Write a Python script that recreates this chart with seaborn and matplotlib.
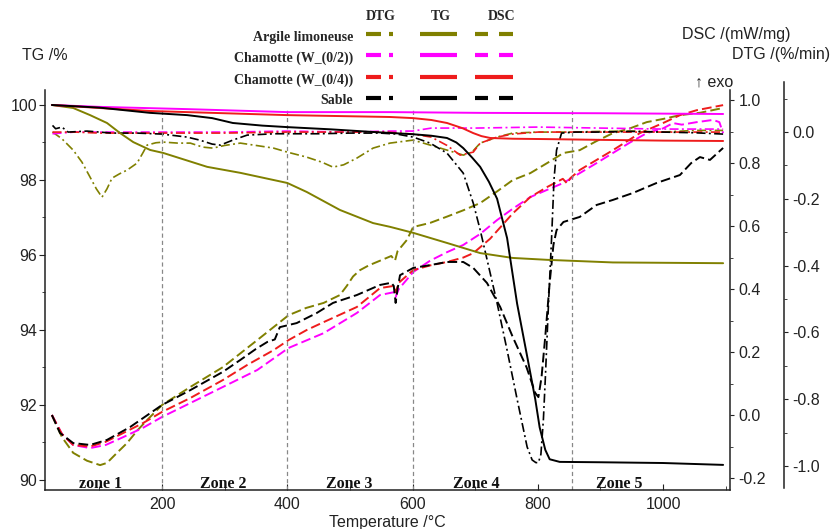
import matplotlib
matplotlib.use("Agg")
import matplotlib.pyplot as plt
import seaborn as sns
from matplotlib.lines import Line2D
from matplotlib.ticker import MultipleLocator, FormatStrFormatter

############################################################
##### Data
############################################################

series_names = ["Argile limoneuse", "Chamotte (W_(0/2))", "Chamotte (W_(0/4))", "Sable"]
series_colors = ["#808000", "#ff00ff", "#ee1c1c", "#000000"]
zone_names = ["zone 1", "Zone 2", "Zone 3", "Zone 4", "Zone 5"]
zone_centers = [101, 297, 499, 701, 930]
zone_bounds = [200, 400, 600, 855]

# TG /% (solid)
tg_arg_t = [24, 58, 85, 112, 133, 154, 181, 202, 272, 325, 400, 431, 484, 537, 564,
            601, 655, 708, 760, 815, 920, 1096]
tg_arg_v = [100.0, 99.92, 99.73, 99.52, 99.25, 99.01, 98.8, 98.72, 98.35, 98.19, 97.92,
            97.68, 97.2, 96.85, 96.75, 96.59, 96.32, 96.05, 95.92, 95.87, 95.8, 95.78]

tg_w02_t = [24, 100, 240, 400, 564, 708, 900, 1096]
tg_w02_v = [100.0, 99.95, 99.89, 99.81, 99.81, 99.79, 99.78, 99.76]

tg_w04_t = [24, 100, 181, 300, 400, 564, 601, 630, 655, 680, 697, 710, 724, 760, 815,
            900, 1000, 1096]
tg_w04_v = [100.0, 99.92, 99.84, 99.78, 99.73, 99.68, 99.65, 99.6, 99.52, 99.38, 99.25,
            99.17, 99.12, 99.1, 99.09, 99.07, 99.05, 99.04]

tg_sab_t = [24, 100, 181, 240, 280, 313, 360, 400, 470, 537, 601, 630, 655, 670, 681,
            695, 708, 722, 735, 751, 767, 783, 796, 803, 812, 819, 835, 900, 1000, 1096]
tg_sab_v = [100.0, 99.93, 99.79, 99.73, 99.65, 99.52, 99.45, 99.41, 99.35, 99.28, 99.22,
            99.18, 99.12, 99.0, 98.85, 98.6, 98.35, 97.95, 97.5, 96.45, 94.7, 93.3, 92.15,
            91.4, 90.8, 90.55, 90.48, 90.47, 90.45, 90.4]

# DSC /(mW/mg) (dashed)
dsc_arg_t = [24, 40, 58, 80, 101, 112, 128, 144, 160, 176, 200, 245, 297, 352, 402, 430,
             458, 484, 495, 505, 516, 530, 548, 566, 572, 576, 591, 601, 628, 655, 681,
             708, 735, 760, 788, 815, 841, 867, 894, 920, 947, 974, 1000, 1027, 1060, 1096]
dsc_arg_v = [0.0, -0.07, -0.12, -0.145, -0.159, -0.152, -0.12, -0.089, -0.05, -0.016,
             0.032, 0.089, 0.152, 0.238, 0.317, 0.34, 0.356, 0.381, 0.41, 0.44, 0.46,
             0.475, 0.49, 0.505, 0.49, 0.52, 0.556, 0.597, 0.61, 0.63, 0.65, 0.673, 0.71,
             0.746, 0.768, 0.8, 0.832, 0.841, 0.87, 0.895, 0.91, 0.93, 0.94, 0.952, 0.96,
             0.975]

dsc_w02_t = [24, 40, 58, 85, 110, 138, 170, 200, 245, 297, 352, 402, 458, 511, 548, 570,
             573, 578, 601, 628, 655, 681, 708, 735, 760, 788, 815, 841, 867, 894, 920,
             947, 974, 1000, 1016, 1030, 1054, 1080, 1090, 1096]
dsc_w02_v = [0.0, -0.06, -0.095, -0.105, -0.095, -0.07, -0.04, -0.006, 0.038, 0.089,
             0.143, 0.213, 0.26, 0.324, 0.381, 0.39, 0.375, 0.4, 0.454, 0.49, 0.517, 0.54,
             0.575, 0.619, 0.655, 0.692, 0.715, 0.737, 0.768, 0.8, 0.832, 0.865, 0.895,
             0.91, 0.927, 0.922, 0.93, 0.937, 0.93, 0.895]

dsc_w04_t = [24, 40, 58, 85, 110, 138, 170, 200, 245, 297, 336, 378, 402, 431, 458, 511,
             548, 570, 573, 578, 601, 628, 655, 681, 697, 724, 760, 788, 815, 840, 847,
             852, 867, 894, 920, 963, 1000, 1027, 1054, 1096]
dsc_w04_v = [0.0, -0.06, -0.095, -0.1, -0.085, -0.057, -0.025, 0.01, 0.054, 0.111, 0.159,
             0.206, 0.238, 0.27, 0.295, 0.343, 0.403, 0.41, 0.39, 0.42, 0.46, 0.475, 0.486,
             0.5, 0.514, 0.56, 0.64, 0.692, 0.724, 0.75, 0.735, 0.752, 0.778, 0.81, 0.841,
             0.895, 0.927, 0.952, 0.968, 0.984]

dsc_sab_t = [24, 37, 58, 85, 112, 149, 200, 245, 297, 325, 350, 368, 380, 388, 415, 447,
             473, 511, 548, 566, 570, 573, 576, 580, 601, 628, 655, 681, 697, 719, 740,
             760, 782, 796, 801, 806, 812, 819, 825, 830, 841, 867, 894, 920, 952, 990,
             1027, 1045, 1059, 1075, 1096]
dsc_sab_v = [0.0, -0.057, -0.089, -0.095, -0.079, -0.038, 0.032, 0.079, 0.137, 0.175,
             0.21, 0.232, 0.24, 0.279, 0.292, 0.324, 0.356, 0.381, 0.413, 0.42, 0.41, 0.356,
             0.4, 0.444, 0.467, 0.476, 0.486, 0.486, 0.467, 0.419, 0.343, 0.248, 0.152,
             0.07, 0.057, 0.12, 0.25, 0.42, 0.54, 0.587, 0.613, 0.629, 0.667, 0.683, 0.705,
             0.737, 0.762, 0.8, 0.819, 0.81, 0.848]

# DTG /(%/min) (dash-dot)
dtg_arg_t = [25, 40, 58, 72, 85, 95, 104, 112, 120, 132, 144, 160, 170, 176, 190, 202,
             225, 245, 265, 281, 300, 325, 350, 378, 400, 431, 455, 473, 490, 511, 537,
             564, 601, 630, 655, 681, 695, 708, 735, 760, 800, 850, 900, 950, 1000, 1050,
             1096]
dtg_arg_v = [0.0, -0.02, -0.054, -0.09, -0.135, -0.17, -0.195, -0.17, -0.138, -0.125,
             -0.114, -0.093, -0.06, -0.039, -0.032, -0.03, -0.033, -0.033, -0.045, -0.048,
             -0.04, -0.033, -0.04, -0.048, -0.06, -0.075, -0.09, -0.105, -0.098, -0.078,
             -0.048, -0.033, -0.024, -0.04, -0.054, -0.069, -0.06, -0.033, -0.015, -0.003,
             0.0, 0.0, 0.002, 0.003, 0.0, 0.005, 0.005]

dtg_w02_t = [25, 60, 100, 200, 300, 400, 500, 560, 600, 630, 700, 800, 900, 1000, 1096]
dtg_w02_v = [-0.005, 0.0, 0.0, 0.0, 0.0, 0.003, 0.0, 0.003, 0.003, 0.012, 0.012, 0.015,
             0.012, 0.009, 0.009]

dtg_w04_t = [25, 60, 100, 200, 300, 400, 500, 560, 600, 630, 655, 676, 697, 708, 735,
             760, 800, 900, 1000, 1096]
dtg_w04_v = [0.0, 0.0, -0.003, -0.003, -0.003, 0.0, 0.0, 0.0, -0.006, -0.015, -0.04,
             -0.069, -0.06, -0.033, -0.015, -0.006, 0.0, 0.0, 0.0, 0.0]

dtg_sab_t = [25, 30, 40, 50, 80, 120, 160, 200, 240, 260, 280, 293, 305, 313, 336, 380,
             450, 500, 548, 575, 601, 628, 655, 681, 697, 708, 720, 735, 751, 767, 783,
             791, 797, 801, 805, 809, 812, 817, 822, 826, 830, 838, 860, 900, 950, 1000,
             1050, 1096]
dtg_sab_v = [0.02, 0.01, 0.015, 0.0, 0.003, -0.003, -0.003, -0.006, -0.015, -0.024,
             -0.036, -0.039, -0.03, -0.024, -0.009, -0.005, -0.005, -0.003, -0.003,
             -0.006, -0.015, -0.033, -0.063, -0.123, -0.213, -0.293, -0.39, -0.512,
             -0.653, -0.8, -0.943, -0.982, -0.99, -0.99, -0.965, -0.86, -0.74, -0.52,
             -0.32, -0.14, -0.054, -0.003, 0.0, 0.0, 0.002, 0.0, -0.002, -0.006]

tg_data = [(tg_arg_t, tg_arg_v), (tg_w02_t, tg_w02_v), (tg_w04_t, tg_w04_v), (tg_sab_t, tg_sab_v)]
dsc_data = [(dsc_arg_t, dsc_arg_v), (dsc_w02_t, dsc_w02_v), (dsc_w04_t, dsc_w04_v), (dsc_sab_t, dsc_sab_v)]
dtg_data = [(dtg_arg_t, dtg_arg_v), (dtg_w02_t, dtg_w02_v), (dtg_w04_t, dtg_w04_v), (dtg_sab_t, dtg_sab_v)]

############################################################
##### Figure
############################################################

sns.set_style("ticks")
plt.rcParams["font.family"] = ["Liberation Sans", "DejaVu Sans"]
plt.rcParams["axes.unicode_minus"] = False
plt.rcParams["lines.scale_dashes"] = False

W, H = 833, 529
SERIF = ["Liberation Serif", "DejaVu Serif"]
DASHED = (7.0, 3.0)
DASHDOT = (6.5, 2.4, 1.4, 2.4)


def fx(px):
    return px / W


def fy(py):
    return 1 - py / H


def draw(axis, t, v, color, dashes=None, lw=1.3, z=2):
    sns.lineplot(x=t, y=v, ax=axis, color=color, linewidth=lw, zorder=z,
                 sort=False, estimator=None)
    line = axis.lines[-1]
    if dashes:
        line.set_dashes(dashes)


fig = plt.figure(figsize=(W / 100, H / 100), dpi=100)
xlim = (13, 1107)

# TG axis (left)
ax = fig.add_axes([fx(45), fy(490), fx(730) - fx(45), fy(90) - fy(490)])
ax.set_xlim(xlim)
ax.set_ylim(89.73, 100.4)

# DSC axis (right, first)
ax2 = ax.twinx()
ax2.set_ylim(-0.238, 1.032)

# DTG axis (right, offset)
ax3 = fig.add_axes([fx(45), fy(488), fx(730) - fx(45), fy(82) - fy(488)])
ax3.set_xlim(xlim)
ax3.set_ylim(-1.066, 0.150)
ax3.patch.set_visible(False)

# zone separators
for b in zone_bounds:
    ax.axvline(b, ymin=0, ymax=0.955, color="#888888", lw=0.9, dashes=(3, 2.2), zorder=1)

for (t, v), c in zip(dsc_data, series_colors):
    draw(ax2, t, v, c, DASHED, lw=1.4)
for (t, v), c in zip(dtg_data, series_colors):
    draw(ax3, t, v, c, DASHDOT, lw=1.2)
for (t, v), c in zip(tg_data, series_colors):
    draw(ax, t, v, c, None, lw=1.4, z=3)
ax.set_zorder(ax2.get_zorder() + 1)
ax.patch.set_visible(False)

for zname, zc in zip(zone_names, zone_centers):
    ax.text(zc, 89.78, zname, ha="center", va="baseline", family=SERIF,
            weight="bold", size=11.5, color="#111111")

# styling of axes
spine_col = "#222222"
for a in (ax, ax2, ax3):
    for s in a.spines.values():
        s.set_visible(False)
        s.set_color(spine_col)
        s.set_linewidth(1.1)
    a.set_xlabel("")
    a.set_ylabel("")

ax.spines["left"].set_visible(True)
ax.spines["bottom"].set_visible(True)
ax2.spines["right"].set_visible(True)
ax3.spines["right"].set_visible(True)
ax3.spines["right"].set_position(("axes", (784 - 45) / (730 - 45)))
ax3.xaxis.set_visible(False)
ax3.yaxis.tick_right()

ax.xaxis.set_major_locator(MultipleLocator(200))
ax.xaxis.set_minor_locator(MultipleLocator(100))
ax.yaxis.set_major_locator(MultipleLocator(2))
ax.yaxis.set_minor_locator(MultipleLocator(1))
ax2.yaxis.set_major_locator(MultipleLocator(0.2))
ax2.yaxis.set_minor_locator(MultipleLocator(0.1))
ax2.yaxis.set_major_formatter(FormatStrFormatter("%.1f"))
ax3.yaxis.set_major_locator(MultipleLocator(0.2))
ax3.yaxis.set_minor_locator(MultipleLocator(0.1))
ax3.yaxis.set_major_formatter(FormatStrFormatter("%.1f"))

ax.set_xticks([200, 400, 600, 800, 1000])
ax.tick_params(axis="x", which="major", direction="in", length=4, pad=5,
               labelsize=11.5, color=spine_col, labelcolor="#222222")
ax.tick_params(axis="x", which="minor", direction="in", length=3, color=spine_col)
ax.tick_params(axis="y", which="major", direction="out", length=4, pad=1.5,
               labelsize=11.5, color=spine_col, labelcolor="#222222")
ax.tick_params(axis="y", which="minor", direction="out", length=2.5, color=spine_col)
for a in (ax2, ax3):
    a.tick_params(axis="y", which="major", direction="out", length=3, pad=3,
                  labelsize=11.5, color=spine_col, labelcolor="#222222")
    a.tick_params(axis="y", which="minor", direction="out", length=2, color=spine_col)

ax.set_xlabel("Temperature /°C", fontsize=11.5, labelpad=2, color="#222222")

# axis titles
fig.text(fx(22), fy(55), "TG /%", ha="left", va="center", size=11.5, color="#222222")
fig.text(fx(790), fy(35), "DSC /(mW/mg)", ha="right", va="center", size=11.5, color="#222222")
fig.text(fx(830), fy(55), "DTG /(%/min)", ha="right", va="center", size=11.5, color="#222222")
fig.text(fx(695), fy(82), "↑ exo", ha="left", va="center", size=11.5, color="#222222")

# hand-made legend table
for label, xc in zip(["DTG", "TG", "DSC"], [381, 441, 502]):
    fig.text(fx(xc), fy(16), label, ha="center", va="center", family=SERIF,
             weight="bold", size=10)

row_y = [34, 55, 77, 98]
for name, c, yy in zip(series_names, series_colors, row_y):
    fig.text(fx(353), fy(yy + 3), name, ha="right", va="center", family=SERIF,
             weight="bold", size=10)
    segs = [(366, 381), (389, 393), (420, 457)]
    if name == "Chamotte (W_(0/4))":
        segs += [(475, 513)]
    else:
        segs += [(475, 488), (499, 513)]
    for x0, x1 in segs:
        fig.add_artist(Line2D([fx(x0), fx(x1)], [fy(yy), fy(yy)], transform=fig.transFigure,
                              color=c, lw=3, solid_capstyle="butt"))

fig.savefig("out.png", dpi=100)
